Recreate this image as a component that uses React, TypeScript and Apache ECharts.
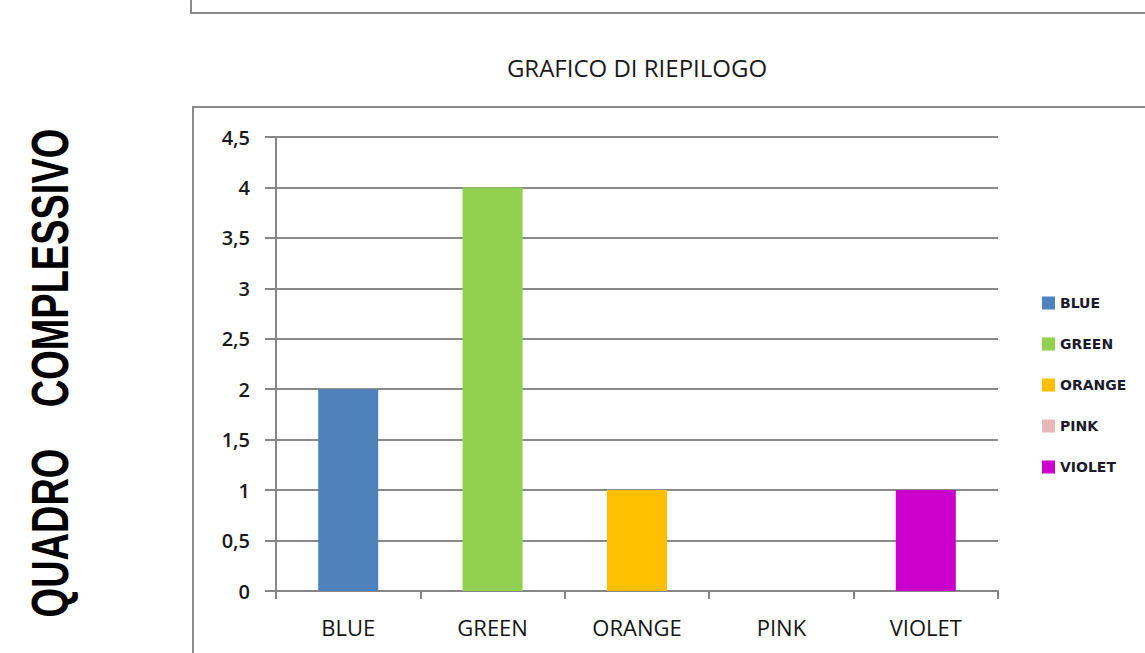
import React, { useEffect, useRef } from "react";
import * as echarts from "echarts";

const categories = ["BLUE", "GREEN", "ORANGE", "PINK", "VIOLET"];
const values = [2, 4, 1, 0, 1];
const colors = ["#4F81BD", "#92D050", "#FFC000", "#E6B9B8", "#CC00CC"];
const yMin = 0;
const yMax = 4.5;
const yStep = 0.5;
const chartTitle = "GRAFICO DI RIEPILOGO";
const sideWord1 = "QUADRO";
const sideWord2 = "COMPLESSIVO";

export default function App() {
  const ref = useRef<HTMLDivElement>(null);
  useEffect(() => {
    document.body.style.margin = "0";
    if (!ref.current) return;
    const chart = echarts.init(ref.current, undefined, { renderer: "svg" });
    const series = categories.map((name, i) => ({
      name,
      type: "bar",
      stack: "all",
      barWidth: 60,
      itemStyle: { color: colors[i] },
      data: categories.map((_, j) => (j === i ? values[i] : "-")),
    }));
    chart.setOption({
      animation: false,
      backgroundColor: "#ffffff",
      grid: { left: 276, top: 137, right: 147, bottom: 62, containLabel: false },
      legend: {
        orient: "vertical",
        left: 1042,
        top: 296,
        padding: 0,
        itemWidth: 13,
        itemHeight: 13,
        itemGap: 27,
        itemTextGap: 3,
        icon: "rect",
        data: categories,
        textStyle: {
          fontFamily: "DejaVu Sans",
          fontWeight: "bold",
          fontSize: 14,
          color: "#1a1a2a",
        },
      },
      xAxis: {
        type: "category",
        data: categories,
        axisLine: { lineStyle: { color: "#868686", width: 2 } },
        axisTick: { show: true, length: 8, lineStyle: { color: "#868686", width: 2 } },
        axisLabel: {
          margin: 25,
          fontFamily: "Open Sans",
          fontWeight: 500,
          fontSize: 22,
          color: "#141414",
        },
        splitLine: { show: false },
      },
      yAxis: {
        type: "value",
        min: yMin,
        max: yMax,
        interval: yStep,
        axisLine: { show: true, lineStyle: { color: "#868686", width: 2 } },
        axisTick: { show: true, length: 11, lineStyle: { color: "#868686", width: 2 } },
        axisLabel: {
          margin: 26,
          fontFamily: "Open Sans",
          fontWeight: 600,
          fontSize: 20,
          color: "#1a1a1a",
          formatter: (v: number) => String(v).replace(".", ","),
        },
        splitLine: { show: true, lineStyle: { color: "#8a8a8a", width: 2 } },
      },
      graphic: [
        {
          type: "rect",
          shape: { x: 191, y: -20, width: 1100, height: 33 },
          style: { fill: "none", stroke: "#8a8a8a", lineWidth: 2 },
          silent: true,
        },
        {
          type: "rect",
          shape: { x: 193, y: 107, width: 1100, height: 700 },
          style: { fill: "none", stroke: "#8a8a8a", lineWidth: 2 },
          silent: true,
          z: -10,
        },
        {
          type: "text",
          x: 637,
          y: 67,
          style: {
            text: chartTitle,
            fontFamily: "Open Sans",
            fontSize: 24,
            fill: "#1a1a1a",
            align: "center",
            verticalAlign: "middle",
          },
        },
        {
          type: "text",
          x: 50,
          y: 533,
          rotation: Math.PI / 2,
          scaleY: 1.35,
          style: {
            text: sideWord1,
            fontFamily: "Liberation Sans",
            fontWeight: "bold",
            fontSize: 38,
            fill: "#000000",
            align: "center",
            verticalAlign: "middle",
          },
        },
        {
          type: "text",
          x: 50,
          y: 268,
          rotation: Math.PI / 2,
          scaleY: 1.35,
          style: {
            text: sideWord2,
            fontFamily: "Liberation Sans",
            fontWeight: "bold",
            fontSize: 38,
            fill: "#000000",
            align: "center",
            verticalAlign: "middle",
          },
        },
      ],
      series,
    });
    return () => chart.dispose();
  }, []);
  return <div ref={ref} style={{ width: 1145, height: 653 }} />;
}
